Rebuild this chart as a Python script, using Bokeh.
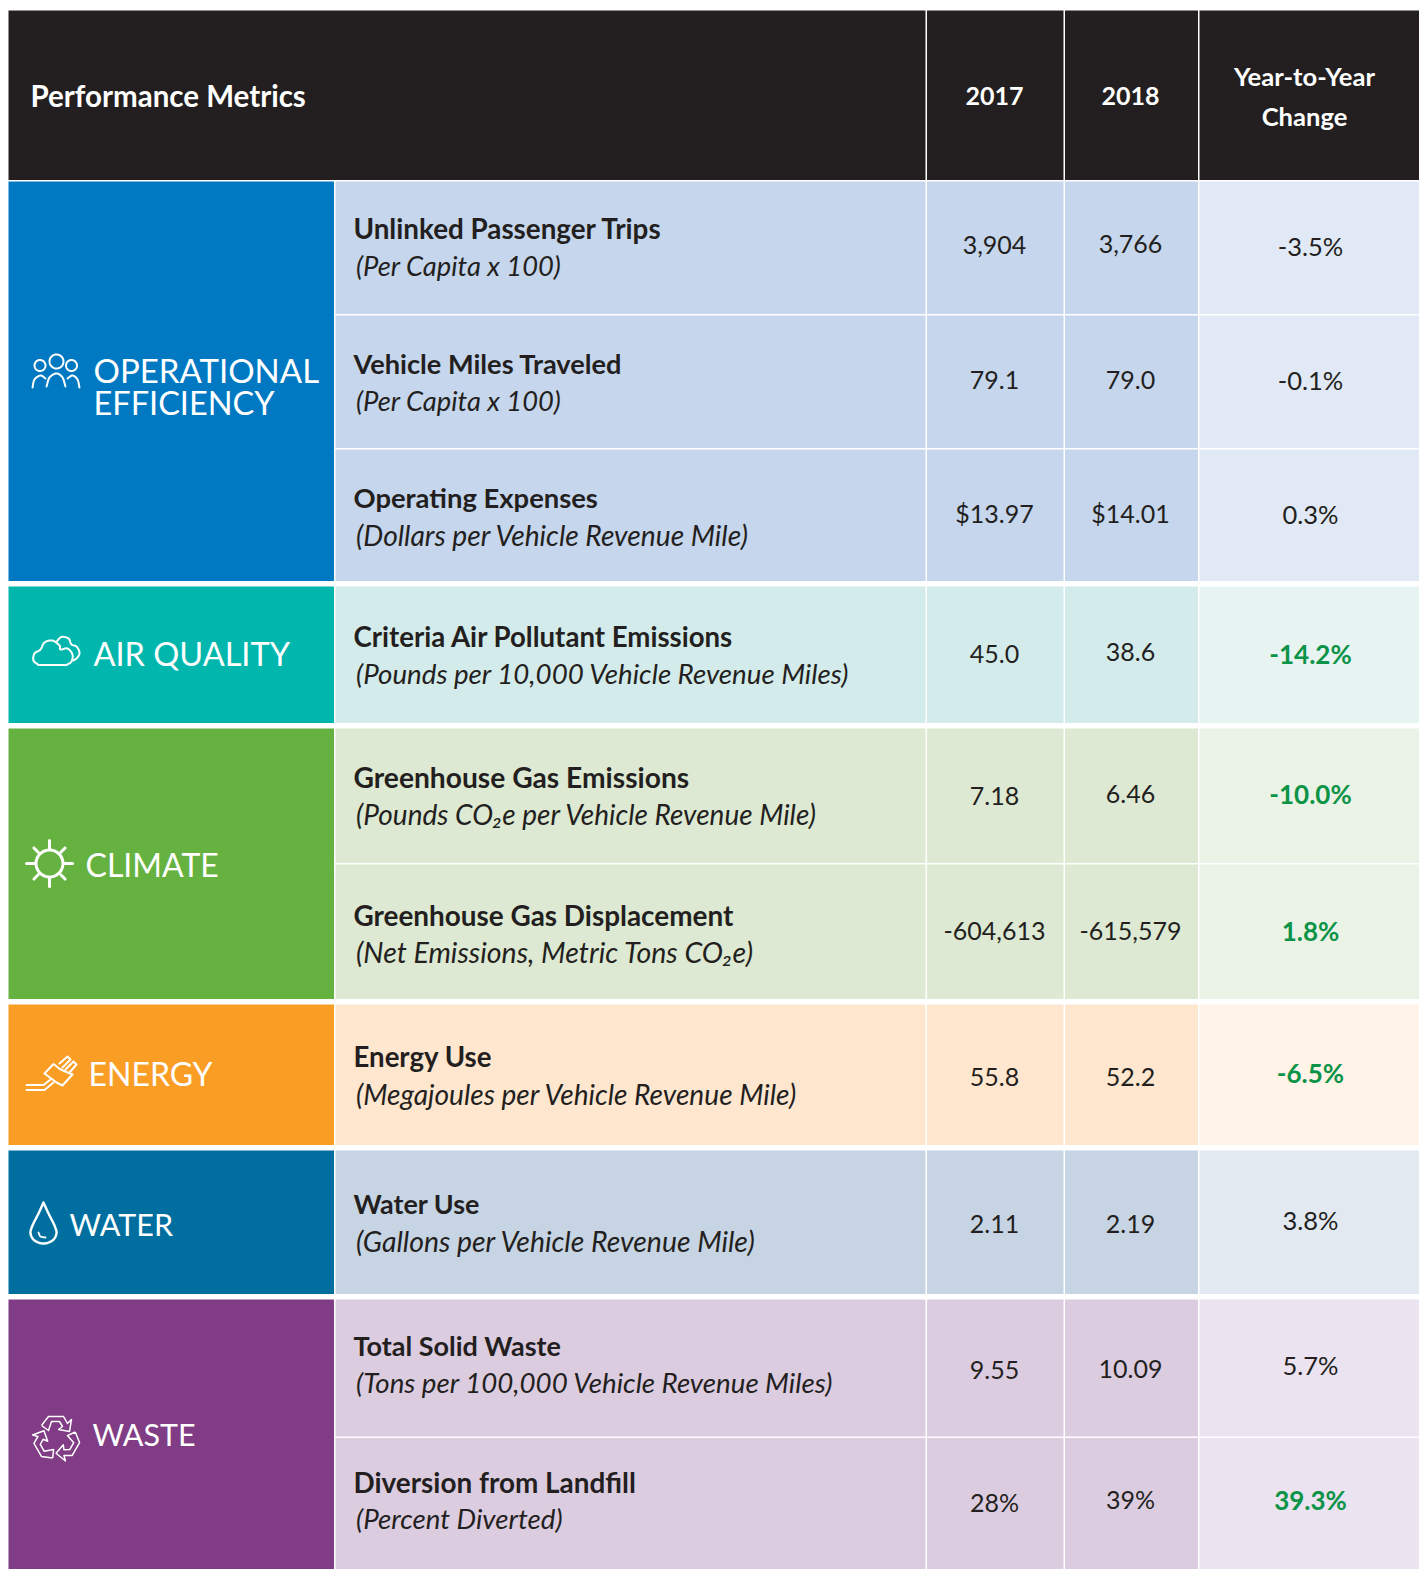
import numpy as np
from bokeh.plotting import figure
from bokeh.models import Range1d
from bokeh.core.properties import value
from bokeh.embed import file_html
from bokeh.resources import INLINE

# ---- data ----
header_title = "Performance Metrics"
years = ["2017", "2018"]
change_header = ["Year-to-Year", "Change"]
categories = ["OPERATIONAL\nEFFICIENCY", "AIR QUALITY", "CLIMATE", "ENERGY", "WATER", "WASTE"]
metrics = ["Unlinked Passenger Trips", "Vehicle Miles Traveled", "Operating Expenses",
           "Criteria Air Pollutant Emissions", "Greenhouse Gas Emissions",
           "Greenhouse Gas Displacement", "Energy Use", "Water Use",
           "Total Solid Waste", "Diversion from Landfill"]
units = ["(Per Capita x 100)", "(Per Capita x 100)", "(Dollars per Vehicle Revenue Mile)",
         "(Pounds per 10,000 Vehicle Revenue Miles)", "(Pounds CO₂e per Vehicle Revenue Mile)",
         "(Net Emissions, Metric Tons CO₂e)", "(Megajoules per Vehicle Revenue Mile)",
         "(Gallons per Vehicle Revenue Mile)", "(Tons per 100,000 Vehicle Revenue Miles)",
         "(Percent Diverted)"]
values_2017 = ["3,904", "79.1", "$13.97", "45.0", "7.18", "-604,613", "55.8", "2.11", "9.55", "28%"]
values_2018 = ["3,766", "79.0", "$14.01", "38.6", "6.46", "-615,579", "52.2", "2.19", "10.09", "39%"]
changes = ["-3.5%", "-0.1%", "0.3%", "-14.2%", "-10.0%", "1.8%", "-6.5%", "3.8%", "5.7%", "39.3%"]
improved = [False, False, False, True, True, True, True, False, False, True]

# ---- layout (page pixels) ----
X0, X_CAT, X_MET, X_A, X_B, X_END = 8, 333.5, 925, 1063, 1197.5, 1419
Y_TOP, Y_HEAD = 10, 179.5
cat_spans = [(181, 580.5), (586, 722.5), (728, 998.5), (1004, 1144.5), (1150, 1293.5), (1299, 1569)]
row_spans = [(181, 313.5), (315, 447.5), (449, 580.5), (586, 722.5), (728, 862.5),
             (864, 998.5), (1004, 1144.5), (1150, 1293.5), (1299, 1436), (1437.5, 1569)]
row_cat = [0, 0, 0, 1, 2, 2, 3, 4, 5, 5]
cat_dark = ["#0079C2", "#00B6AD", "#66B240", "#F99D25", "#006FA0", "#803C84"]
cat_mid = ["#C6D6EC", "#D3EBEA", "#DDE9D2", "#FFE6CF", "#C6D4E3", "#DCCCE0"]
cat_light = ["#E2E9F6", "#E8F4F2", "#EBF3E6", "#FFF4E7", "#E2E9F1", "#EBE3F0"]
title_y = [228, 363, 497, 636, 776, 914, 1056, 1203, 1345, 1481]
unit_y = [265, 400, 534, 673, 813, 951, 1093, 1240, 1382, 1518]
title_size = [27.8, 27.2, 27.4, 27.6, 28.2, 27.9, 27.6, 26.9, 27.0, 27.9]
unit_size = [27.3, 27.3, 28.2, 27.7, 28.0, 28.5, 28.1, 28.4, 27.7, 27.7]
y17 = [244.5, 379.5, 512.5, 653.5, 795.5, 930.5, 1076.5, 1223.5, 1369.5, 1501.5]
y18 = [243.5, 379.5, 512.5, 651.5, 793.5, 930.5, 1076.5, 1223.5, 1368.5, 1498.5]
ych = [245.5, 379.5, 513.5, 653, 793, 930, 1072, 1219.5, 1364.5, 1499]
cat_label_x = [93, 93, 93, 85, 88, 69, 92]
cat_label_y = [369.5, 401.5, 652.5, 863.5, 1072.5, 1223, 1433]
cat_label_size = ["33px", "32.5px", "32.5px", "32px", "32px", "30.5px", "30.5px"]

p = figure(width=1419, height=1569, output_backend="svg", toolbar_location=None,
           x_range=Range1d(0, 1419), y_range=Range1d(1569, 0), min_border=0,
           background_fill_color="white", border_fill_color="white", outline_line_color=None)
p.axis.visible = False
p.grid.visible = False

# header
xs = [(X0, X_MET), (X_MET + 1.5, X_A), (X_A + 1.5, X_B), (X_B + 1.5, X_END)]
p.quad(left=[a for a, b in xs], right=[b for a, b in xs], top=[Y_TOP] * 4, bottom=[Y_HEAD] * 4,
       fill_color="#231F20", line_color=None)
# category blocks
p.quad(left=[X0] * 6, right=[X_CAT] * 6, top=[s[0] for s in cat_spans], bottom=[s[1] for s in cat_spans],
       fill_color=cat_dark, line_color=None)
# rows
for (l, r, pal) in [(X_CAT + 1.5, X_MET, cat_mid), (X_MET + 1.5, X_A, cat_mid),
                    (X_A + 1.5, X_B, cat_mid), (X_B + 1.5, X_END, cat_light)]:
    p.quad(left=[l] * 10, right=[r] * 10, top=[s[0] for s in row_spans], bottom=[s[1] for s in row_spans],
           fill_color=[pal[c] for c in row_cat], line_color=None)

LATO = value("Lato")
def txt(x, y, t, size, color, style="normal", align="left"):
    p.text(x=x, y=y, text=t, text_font=LATO, text_font_size=value(size), text_color=color,
           text_font_style=style, text_align=align, text_baseline="middle")

DARK = "#231F20"
txt([30], [94.5], [header_title], "29.5px", "white", "bold")
txt([994, 1130], [95, 95], years, "25px", "white", "bold", "center")
txt([1304, 1304], [75, 115], change_header, "25.6px", "white", "bold", "center")

labels = [part for c in categories for part in c.split("\n")]
for t, x, y, s in zip(labels, cat_label_x, cat_label_y, cat_label_size):
    txt([x], [y], [t], s, "white")

for i in range(10):
    txt([353], [title_y[i]], [metrics[i]], f"{title_size[i]}px", DARK, "bold")
    txt([355.5], [unit_y[i]], [units[i]], f"{unit_size[i]}px", DARK, "italic")
txt([994] * 10, y17, values_2017, "25px", DARK, "normal", "center")
txt([1130] * 10, y18, values_2018, "25px", DARK, "normal", "center")
for i in range(10):
    if improved[i]:
        txt([1310], [ych[i]], [changes[i]], "26px", "#0B9347", "bold", "center")
    else:
        txt([1310], [ych[i]], [changes[i]], "25.5px", DARK, "normal", "center")

# ---- icons ----
def smooth(pts, closed=False, n=8):
    P = np.array(pts, float)
    if closed:
        Q = np.vstack([P[-1], P, P[0], P[1]])
    else:
        Q = np.vstack([2 * P[0] - P[1], P, 2 * P[-1] - P[-2]])
    out = []
    for i in range(1, len(Q) - 2):
        for t in np.linspace(0, 1, n, endpoint=False):
            a, b, c, d = Q[i - 1], Q[i], Q[i + 1], Q[i + 2]
            out.append(0.5 * (2 * b + (c - a) * t + (2 * a - 5 * b + 4 * c - d) * t ** 2 + (3 * b - a - 3 * c + d) * t ** 3))
    out.append(Q[-2])
    o = np.array(out)
    return o[:, 0], o[:, 1]

def line(pts, w=2.0):
    a = np.array(pts, float)
    p.line(a[:, 0], a[:, 1], line_color="white", line_width=w, line_cap="round", line_join="round")

def curve(pts, closed=False, w=2.0):
    x, y = smooth(pts, closed)
    p.line(x, y, line_color="white", line_width=w, line_cap="round", line_join="round")

def ring(cx, cy, r, w=2.0):
    t = np.linspace(0, 2 * np.pi, 48)
    p.line(cx + r * np.cos(t), cy + r * np.sin(t), line_color="white", line_width=w)

# people
ring(39.5, 365, 5.5); ring(56, 361, 7); ring(71, 365, 5.5)
curve([(32, 387), (34, 379), (40, 375), (45, 378)])
curve([(46, 386), (49, 377), (56, 373), (62, 377), (65, 386)])
curve([(67, 378), (72, 375), (77, 379), (79, 387)])
# clouds
curve([(38, 664.5), (33, 660), (34, 653), (40, 649), (44, 642), (52, 640), (59, 645), (60, 649),
       (67, 648), (72, 654), (71, 661), (66, 664.5)])
line([(38, 664.5), (66, 664.5)])
curve([(56, 641), (61, 636.5), (68, 638), (71, 644), (76, 646), (79, 652), (77, 657), (73, 660)])
# sun
ring(49, 863, 13.5, 3)
for a in np.deg2rad(np.arange(0, 360, 45)):
    r0, r1 = (15, 23) if int(round(np.rad2deg(a))) % 90 == 0 else (16, 22)
    line([(49 + r0 * np.cos(a), 863 + r0 * np.sin(a)), (49 + r1 * np.cos(a), 863 + r1 * np.sin(a))], 3)
# plug
line([(26, 1084.5), (43, 1084.5), (50, 1079)])
line([(26, 1089.5), (44, 1089.5), (53, 1082)])
line([(44, 1073), (53, 1063.5), (60, 1069), (72, 1074), (62, 1085), (56, 1082), (44, 1073)])
line([(59, 1063), (67, 1056), (70, 1059), (62, 1067)])
line([(65, 1069), (73, 1061), (76, 1064), (69, 1072)])
# drop
curve([(43, 1202), (38, 1213), (32, 1225), (30, 1233), (34, 1240), (43, 1243), (52, 1240), (56, 1233),
       (54, 1225), (48, 1213), (43, 1202)], w=2.4)
curve([(38, 1232), (40, 1236), (45, 1237)], w=1.8)
# recycling arrows: one arm turned three times
arm = np.array([(-15, -13), (-8, -22), (7, -22), (11, -15), (15, -19), (13, -7), (2, -9), (6, -12),
                (3, -17), (-5, -17), (-8, -8), (-15, -13)])
for deg in (0, 120, 240):
    a = np.deg2rad(deg)
    R = np.array([[np.cos(a), -np.sin(a)], [np.sin(a), np.cos(a)]])
    q = arm @ R.T + np.array([56, 1438])
    p.line(q[:, 0], q[:, 1], line_color="white", line_width=1.5, line_join="round")

open("out.html", "w").write(file_html(p, INLINE))
